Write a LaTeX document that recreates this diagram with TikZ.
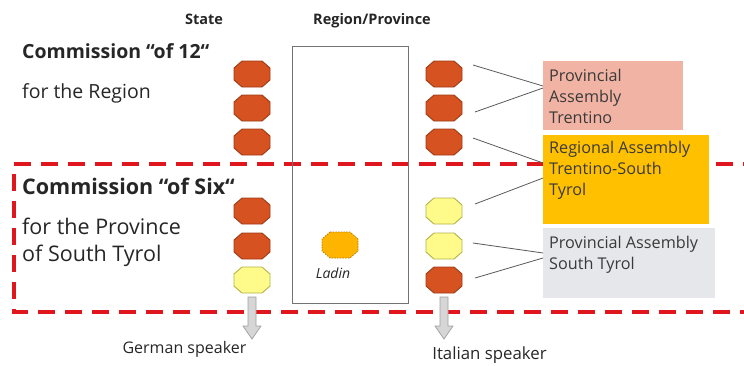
\documentclass[tikz,border=0pt]{standalone}
\usepackage{fontspec}
\setmainfont{Open Sans}
\usetikzlibrary{calc}
\definecolor{octred}{HTML}{D65220}
\definecolor{octredb}{HTML}{9C3B15}
\definecolor{octyel}{HTML}{FFFB8A}
\definecolor{octyelb}{HTML}{B3B24A}
\definecolor{ladin}{HTML}{FFB400}
\definecolor{ladinb}{HTML}{B07A00}
\definecolor{dashred}{HTML}{E0161E}
\definecolor{boxpink}{HTML}{F1B3A3}
\definecolor{boxgold}{HTML}{FFC000}
\definecolor{boxgray}{HTML}{E5E7EB}
\definecolor{txt}{HTML}{262626}
\definecolor{boxtxt}{HTML}{3A3A3A}
\definecolor{arrgray}{HTML}{D6D6D6}
\definecolor{arrgrayb}{HTML}{9E9E9E}
% octagon: name, position, style of the outline
\newcommand\octnode[3]{%
  \node[inner sep=0pt, outer sep=0pt, minimum width=36pt, minimum height=26pt] (#1) at (#2) {};
  \draw[#3] ($(#1.north west)+(8,0)$) -- ($(#1.north east)+(-8,0)$)
    -- ($(#1.north east)+(0,7)$) -- ($(#1.south east)+(0,-7)$)
    -- ($(#1.south east)+(-8,0)$) -- ($(#1.south west)+(8,0)$)
    -- ($(#1.south west)+(0,-7)$) -- ($(#1.north west)+(0,7)$) -- cycle;
}
\begin{document}
\begin{tikzpicture}[x=1pt,y=-1pt,
  octR/.style={fill=octred, draw=octredb, line width=0.9pt},
  octY/.style={fill=octyel, draw=octyelb, line width=0.9pt},
  octL/.style={fill=ladin, draw=ladinb, dash pattern=on 1.5pt off 1.2pt, line width=0.7pt},
  head/.style={font=\fontsize{14.5}{16}\selectfont\bfseries, text=txt, anchor=base, inner sep=0pt},
  comm/.style={font=\fontsize{19.5}{22}\selectfont\bfseries, text=txt, anchor=base west, inner sep=0pt},
  commbig/.style={font=\fontsize{21.5}{24}\selectfont\bfseries, text=txt, anchor=base west, inner sep=0pt},
  sub/.style={font=\fontsize{19.5}{22}\selectfont, text=txt, anchor=base west, inner sep=0pt},
  subbig/.style={font=\fontsize{21.5}{24}\selectfont, text=txt, anchor=base west, inner sep=0pt},
  spk/.style={font=\fontsize{16}{18}\selectfont, text=txt, anchor=base, inner sep=0pt},
  asm/.style={anchor=north west, inner sep=0pt, outer sep=0pt},
  asmtxt/.style={font=\fontsize{16.2}{21}\selectfont, text=boxtxt, anchor=north west, inner sep=0pt, align=left},
  conn/.style={draw=black!65, line width=0.8pt},
  blockarrow/.style={fill=arrgray, draw=arrgrayb, line width=0.7pt},
]
\useasboundingbox (0,0) rectangle (744,365);

% red dashed frame (open at the right)
\draw[dashred, line width=4pt, dash pattern=on 17pt off 10pt]
  (760,164) -- (14,164) -- (14,312) -- (760,312);

% headers
\node[head] (hstate) at (204,24) {State};
\node[head] (hreg) at (372,24) {Region/Province};

% left texts
\node[comm] (c12) at (22,58) {Commission “of 12“};
\node[sub] (c12s) at (22,98) {for the Region};
\node[commbig] (c6) at (22,194) {Commission “of Six“};
\node[subbig] (c6s1) at (22,234) {for the Province};
\node[subbig] (c6s2) at (22,261) {of South Tyrol};

% region/province rectangle
\node[draw=black!55, line width=1pt, minimum width=116pt, minimum height=257pt, anchor=north west, inner sep=0pt] (reg) at (292,46) {};

% state octagons
\octnode{l1}{252,74}{octR}
\octnode{l2}{252,108}{octR}
\octnode{l3}{252,142}{octR}
\octnode{l4}{252,211}{octR}
\octnode{l5}{252,246}{octR}
\octnode{l6}{252,280}{octY}

% province octagons
\octnode{r1}{444,74}{octR}
\octnode{r2}{444,108}{octR}
\octnode{r3}{444,142}{octR}
\octnode{r4}{444,211}{octY}
\octnode{r5}{444,246}{octY}
\octnode{r6}{444,280}{octR}

% Ladin
\octnode{lad}{340,245}{octL}
\node[font=\fontsize{14}{16}\selectfont\itshape, text=txt, anchor=base, inner sep=0pt] (ladt) at (333,278) {Ladin};

% assembly boxes
\node[asm, fill=boxpink, minimum width=140pt, minimum height=69pt] (pt) at (543,61) {};
\node[asm, fill=boxgold, minimum width=166pt, minimum height=89pt] (ra) at (543,135) {};
\node[asm, fill=boxgray, minimum width=172pt, minimum height=70pt] (pst) at (543,228) {};
\node[asmtxt] (ptt) at (549,69) {Provincial\\Assembly\\Trentino};
\node[asmtxt] (rat) at (549,141) {Regional Assembly\\Trentino-South\\Tyrol};
\node[asmtxt] (pstt) at (549,236) {Provincial Assembly\\South Tyrol};

% connectors
\coordinate (s1) at ($(r1.east)+(11,-9)$);
\coordinate (s2) at ($(r2.east)+(13,4)$);
\coordinate (s3) at ($(r3.east)+(11,-4)$);
\coordinate (s4) at ($(r4.east)+(13,-7)$);
\coordinate (s5) at ($(r5.east)+(11,-3)$);
\coordinate (s6) at ($(r6.east)+(13,-2)$);
\coordinate (e1) at ($(pt.north west)+(0,25)$);
\coordinate (e2) at ($(pt.north west)+(0,27)$);
\coordinate (e3) at ($(ra.north west)+(0,28)$);
\coordinate (e4) at ($(ra.north west)+(0,43)$);
\coordinate (e5) at ($(pst.north west)+(0,25)$);
\coordinate (e6) at ($(pst.north west)+(0,30)$);
\draw[conn] (s1) -- (e1);
\draw[conn] (s2) -- (e2);
\draw[conn] (s3) -- (e3);
\draw[conn] (s4) -- (e4);
\draw[conn] (s5) -- (e5);
\draw[conn] (s6) -- (e6);

% block arrows
\draw[blockarrow] ($(l6.south)+(-4,4)$) -- ++(0,29) -- ++(-5,0) -- ++(9,13) -- ++(9,-13) -- ++(-5,0) -- ++(0,-29) -- cycle;
\draw[blockarrow] ($(r6.south)+(-4,4)$) -- ++(0,29) -- ++(-5,0) -- ++(9,13) -- ++(9,-13) -- ++(-5,0) -- ++(0,-29) -- cycle;

% speaker labels
\node[spk] (gs) at (184.5,353) {German speaker};
\node[spk, font=\fontsize{16.8}{18}\selectfont] (is) at (489.5,359) {Italian speaker};
\end{tikzpicture}
\end{document}
